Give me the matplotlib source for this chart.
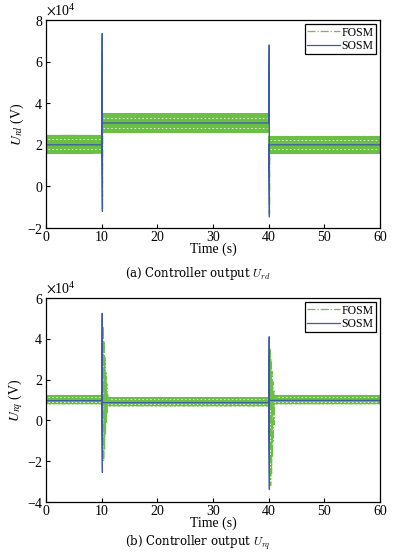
import matplotlib
matplotlib.use("Agg")
import matplotlib.pyplot as plt
from matplotlib.ticker import ScalarFormatter
import numpy as np

plt.rcParams.update({'font.family': 'serif',
                     'font.serif': ['Liberation Serif', 'DejaVu Serif'],
                     'mathtext.fontset': 'stix',
                     'font.size': 10})

# ------------------------------
# data (volts)
# ------------------------------
seg_start = [0, 10, 40]
seg_end = [10, 40, 60]

# (a) U_rd
rd_sosm_level = [2.0e4, 3.05e4, 2.0e4]
rd_fosm_low = [1.6e4, 2.6e4, 1.6e4]
rd_fosm_high = [2.45e4, 3.5e4, 2.4e4]
rd_spike_t = [10.1, 40.1]
rd_spike_max = [7.35e4, 6.8e4]
rd_spike_min = [-1.2e4, -1.47e4]

# (b) U_rq
rq_sosm_level = [0.97e4, 0.87e4, 0.98e4]
rq_fosm_low = [0.82e4, 0.72e4, 0.82e4]
rq_fosm_high = [1.22e4, 1.12e4, 1.22e4]
rq_spike_t = [10.1, 40.1]
rq_spike_max = [5.25e4, 4.1e4]
rq_spike_min = [-2.55e4, -3.38e4]
# FOSM ringing after each step (offset from step time, value)
rq_fosm_ring_dt = [0.0, 0.08, 0.16, 0.24, 0.32, 0.40, 0.48, 0.56, 0.64, 0.72, 0.80, 0.88, 0.96]
rq_fosm_ring_10 = [0.9e4, 4.6e4, -2.0e4, 3.9e4, -1.4e4, 3.1e4, -0.7e4, 2.4e4, -0.1e4, 1.8e4, 0.4e4, 1.3e4, 0.8e4]
rq_fosm_ring_40 = [0.9e4, 3.5e4, -3.2e4, 3.0e4, -2.6e4, 2.4e4, -1.8e4, 1.9e4, -1.0e4, 1.5e4, -0.2e4, 1.2e4, 0.8e4]

xticks = [0, 10, 20, 30, 40, 50, 60]

FOSM_C = '#6cbf45'
SOSM_C = '#3c5aa8'


def chatter(t0, t1, lo, hi, dt=0.03):
    # switching between the two band edges
    tt = np.arange(t0, t1, dt)
    vv = np.where(np.arange(len(tt)) % 2 == 0, lo, hi)
    return tt, vv


def draw(ax, sosm_level, fosm_low, fosm_high, spike_t, spike_max, spike_min,
         ring=None):
    for i in range(len(seg_start)):
        tt, vv = chatter(seg_start[i], seg_end[i], fosm_low[i], fosm_high[i])
        ax.plot(tt, vv, color=FOSM_C, lw=0.9, ls='-.')
        # light dotted rows seen inside the chattering band
        w = fosm_high[i] - fosm_low[i]
        for f in (0.22, 0.78):
            ax.plot([seg_start[i] + 0.3, seg_end[i] - 0.3],
                    [fosm_low[i] + f * w] * 2, color='#e6f3dc', lw=0.7,
                    ls=(0, (1.5, 2.5)))
    # FOSM step transients
    for k, ts in enumerate(spike_t):
        if ring is None:
            ax.plot([ts - 0.1, ts, ts + 0.05, ts + 0.1],
                    [fosm_low[k], spike_max[k] * 0.95, spike_min[k] * 0.9,
                     fosm_high[k + 1]], color=FOSM_C, lw=0.9, ls='-.')
        else:
            ax.plot(np.array(rq_fosm_ring_dt) + ts + 0.1, ring[k],
                    color=FOSM_C, lw=0.9, ls='-.')
    # SOSM
    ts_all, vs_all = [], []
    for i in range(len(seg_start)):
        ts_all += [seg_start[i], seg_end[i] if i == len(seg_start) - 1
                   else spike_t[i] - 0.1]
        vs_all += [sosm_level[i], sosm_level[i]]
        if i < len(spike_t):
            ts_all += [spike_t[i], spike_t[i] + 0.03]
            vs_all += [spike_max[i], spike_min[i]]
    ax.plot(ts_all, vs_all, color=SOSM_C, lw=0.9)


fig = plt.figure(figsize=(3.95, 5.53), dpi=100)
ax1 = fig.add_axes([0.1165, 0.5877, 0.8455, 0.3761])
ax2 = fig.add_axes([0.1165, 0.0922, 0.8455, 0.3689])

draw(ax1, rd_sosm_level, rd_fosm_low, rd_fosm_high, rd_spike_t,
     rd_spike_max, rd_spike_min)
draw(ax2, rq_sosm_level, rq_fosm_low, rq_fosm_high, rq_spike_t,
     rq_spike_max, rq_spike_min, ring=[rq_fosm_ring_10, rq_fosm_ring_40])

ax1.set_ylim(-2e4, 8e4)
ax1.set_yticks([-2e4, 0, 2e4, 4e4, 6e4, 8e4])
ax2.set_ylim(-4e4, 6e4)
ax2.set_yticks([-4e4, -2e4, 0, 2e4, 4e4, 6e4])
ax1.set_ylabel(r'$U_{rd}$ (V)', labelpad=1)
ax2.set_ylabel(r'$U_{rq}$ (V)', labelpad=1)

for ax in (ax1, ax2):
    ax.set_xlim(0, 60)
    ax.set_xticks(xticks)
    ax.set_xlabel('Time (s)', labelpad=-1)
    ax.tick_params(direction='in', length=3, width=0.8, pad=2)
    fmt = ScalarFormatter(useMathText=True)
    fmt.set_powerlimits((0, 0))
    ax.yaxis.set_major_formatter(fmt)
    for sp in ax.spines.values():
        sp.set_linewidth(0.9)
    h_f, = ax.plot([], [], color=FOSM_C, lw=0.9, ls='-.', label='FOSM')
    h_s, = ax.plot([], [], color=SOSM_C, lw=0.9, label='SOSM')
    leg = ax.legend(handles=[h_f, h_s], loc='upper right', fontsize=8.5,
                    fancybox=False, edgecolor='k', framealpha=1,
                    borderpad=0.2, labelspacing=0.1, handlelength=2.8,
                    handletextpad=0.1, borderaxespad=0.35)
    leg.get_frame().set_linewidth(0.9)

fig.text(0.5, 0.506, r'(a) Controller output $\mathbf{\mathit{U_{rd}}}$',
         ha='center', va='center', fontsize=8.5, family='DejaVu Serif',
         math_fontfamily='cm')
fig.text(0.5, 0.018, r'(b) Controller output $\mathbf{\mathit{U_{rq}}}$',
         ha='center', va='center', fontsize=8.5, family='DejaVu Serif',
         math_fontfamily='cm')

fig.savefig('out.png', dpi=100)
